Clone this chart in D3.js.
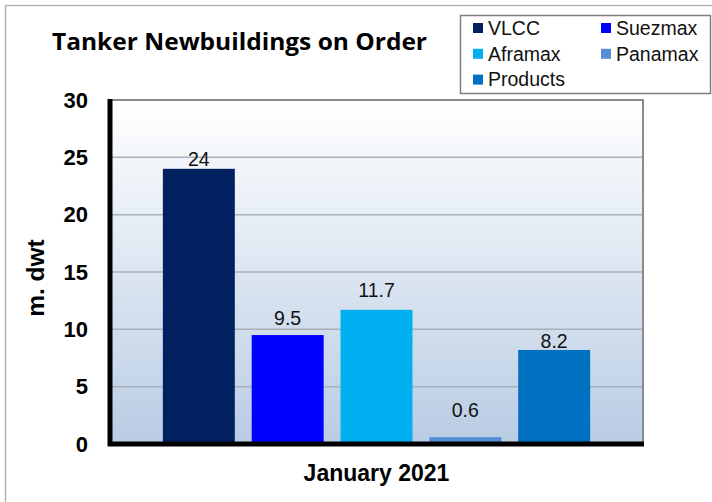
<!DOCTYPE html>
<html>
<head>
<meta charset="utf-8">
<script src="https://cdn.jsdelivr.net/npm/d3@7"></script>
<style>
  body { margin: 0; background: #fff; }
  text { font-family: "Liberation Sans", Arial, sans-serif; }
</style>
</head>
<body>
<div id="chart"></div>
<script>
// Data
const category = 'January 2021'
const series = ['VLCC', 'Suezmax', 'Aframax', 'Panamax', 'Products']
const values = [24, 9.5, 11.7, 0.6, 8.2]
const colors = ['#002060', '#0000ff', '#00b0f0', '#558ed5', '#0070c0']
const yTicks = [0, 5, 10, 15, 20, 25, 30]
// gap between bar top and its label, as placed in the original
const labelGap = [3, 10, 13, 20, 2]

// Dimensions
let dims = {
    width: 712,
    height: 502,
    margin: { top: 100, bottom: 58, left: 110, right: 69 }
}
dims.ctrWidth = dims.width - dims.margin.left - dims.margin.right
dims.ctrHeight = dims.height - dims.margin.top - dims.margin.bottom

// Scales
const x0 = d3.scaleBand()
    .domain([category])
    .range([0, dims.ctrWidth])
    .paddingInner(0)
    .paddingOuter(0.1)
const x1 = d3.scaleBand()
    .domain(series)
    .range([0, x0.bandwidth()])
    .paddingInner(0.19)
    .paddingOuter(0.095)
const yScale = d3.scaleLinear()
    .domain([0, 30])
    .range([dims.ctrHeight, 0])
const color = d3.scaleOrdinal().domain(series).range(colors)

const svg = d3.select('#chart')
    .append('svg')
    .attr('width', dims.width)
    .attr('height', dims.height)

// plot background gradient
const grad = svg.append('defs').append('linearGradient')
    .attr('id', 'bg').attr('x1', 0).attr('y1', 0).attr('x2', 0).attr('y2', 1)
grad.append('stop').attr('offset', '0%').attr('stop-color', '#ffffff')
grad.append('stop').attr('offset', '100%').attr('stop-color', '#b9cce4')

// outer frame
svg.append('rect')
    .attr('x', 5.5).attr('y', 5.5)
    .attr('width', dims.width).attr('height', dims.height)
    .attr('fill', 'none').attr('stroke', '#b4b4b4').attr('stroke-width', 1.5)

// title
svg.append('text')
    .attr('x', 52).attr('y', 50)
    .attr('textLength', 375).attr('lengthAdjust', 'spacingAndGlyphs')
    .style('font-family', '"Open Sans", sans-serif')
    .style('font-weight', 700).style('font-size', '23px')
    .text('Tanker Newbuildings on Order')

const ctr = svg.append('g')
    .attr('transform', `translate(${dims.margin.left}, ${dims.margin.top})`)

ctr.append('rect')
    .attr('width', dims.ctrWidth).attr('height', dims.ctrHeight)
    .attr('fill', 'url(#bg)')

// gridlines
ctr.selectAll('.grid')
    .data(yTicks.filter(d => d > 0 && d < 30))
    .join('line')
    .attr('x1', 0).attr('x2', dims.ctrWidth)
    .attr('y1', d => yScale(d)).attr('y2', d => yScale(d))
    .attr('stroke', '#a9b0ba').attr('stroke-width', 1.5)

// top and right border
ctr.append('path')
    .attr('d', `M0,${yScale(30)}H${dims.ctrWidth}V${dims.ctrHeight}`)
    .attr('fill', 'none').attr('stroke', '#8c8c8c').attr('stroke-width', 2)

// bars
const seriesData = series.map((s, i) => ({ name: s, value: values[i], gap: labelGap[i] }))
const group = ctr.append('g')
    .attr('transform', `translate(${x0(category)}, 0)`)

group.selectAll('rect')
    .data(seriesData)
    .join('rect')
    .attr('x', d => x1(d.name))
    .attr('y', d => yScale(d.value))
    .attr('width', x1.bandwidth())
    .attr('height', d => dims.ctrHeight - yScale(d.value))
    .attr('fill', d => color(d.name))

group.selectAll('.lbl')
    .data(seriesData)
    .join('text')
    .attr('x', d => x1(d.name) + x1.bandwidth() / 2)
    .attr('y', d => yScale(d.value) - d.gap)
    .attr('text-anchor', 'middle')
    .style('font-size', '19.5px')
    .attr('fill', '#111')
    .text(d => d.value)

// axes
ctr.append('path')
    .attr('d', `M0,${yScale(30) - 1}V${dims.ctrHeight}H${dims.ctrWidth + 1}`)
    .attr('fill', 'none').attr('stroke', '#000').attr('stroke-width', 5)

const yAxis = d3.axisLeft(yScale)
    .tickValues(yTicks)
    .tickSize(0)
    .tickPadding(22)
const yAxisGroup = ctr.append('g').call(yAxis)
yAxisGroup.select('.domain').remove()
yAxisGroup.selectAll('text')
    .style('font-family', '"Liberation Sans", Arial, sans-serif')
    .style('font-size', '22px').style('font-weight', 700)
    .attr('fill', '#000')

yAxisGroup.append('text')
    .attr('transform', `translate(${35 - dims.margin.left}, ${278 - dims.margin.top}) rotate(-90)`)
    .attr('dy', '0.35em')
    .attr('text-anchor', 'middle')
    .attr('fill', '#000')
    .style('font-size', '24.5px').style('font-weight', 700)
    .text('m. dwt')

const xAxisGroup = ctr.append('g')
    .attr('transform', `translate(0, ${dims.ctrHeight})`)
xAxisGroup.append('text')
    .attr('x', x0(category) + x0.bandwidth() / 2)
    .attr('y', 37)
    .attr('text-anchor', 'middle')
    .attr('fill', '#000')
    .style('font-size', '23px').style('font-weight', 700)
    .text(category)

// legend
const legend = svg.append('g')
legend.append('rect')
    .attr('x', 460.5).attr('y', 15.5)
    .attr('width', 250).attr('height', 78)
    .attr('fill', '#fff').attr('stroke', '#7f7f7f').attr('stroke-width', 1.5)

const item = legend.selectAll('.item')
    .data(series)
    .join('g')
    .attr('transform', (d, i) => `translate(${i % 2 ? 601 : 473}, ${28 + Math.floor(i / 2) * 25.8})`)
item.append('rect')
    .attr('y', -5).attr('width', 10).attr('height', 10)
    .attr('fill', d => color(d))
item.append('text')
    .attr('x', 15).attr('dy', '0.35em')
    .style('font-size', '19.5px')
    .attr('fill', '#111')
    .text(d => d)
</script>
</body>
</html>
